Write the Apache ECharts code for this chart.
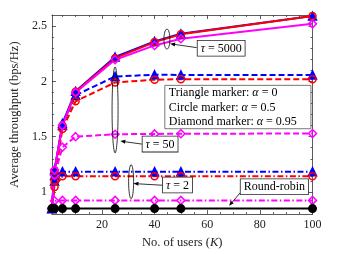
<!DOCTYPE html>
<html><head><meta charset="utf-8">
<script src="https://cdn.jsdelivr.net/npm/echarts@6/dist/echarts.min.js"></script>
<style>html,body{margin:0;padding:0;background:#fff}#c{width:339px;height:254px}</style>
</head><body><div id="c"></div>
<script>
// ---- data ----
const K = [1, 2, 5, 10, 25, 40, 50, 100];
const tau5000_a0   = [0.85, 1.20, 1.62, 1.91, 2.22, 2.36, 2.43, 2.59];
const tau5000_a05  = [0.85, 1.19, 1.60, 1.905, 2.21, 2.355, 2.425, 2.59];
const tau5000_a095 = [0.85, 1.20, 1.60, 1.90, 2.195, 2.325, 2.385, 2.52];
const tau50_a0     = [0.85, 1.15, 1.60, 1.875, 2.044, 2.06, 2.058, 2.058];
const tau50_a05    = [0.85, 1.10, 1.57, 1.82, 1.99, 2.015, 2.02, 2.02];
const tau50_a095   = [0.85, 1.15, 1.405, 1.50, 1.522, 1.525, 1.527, 1.528];
const tau2_a0      = [0.85, 1.10, 1.184, 1.184, 1.184, 1.184, 1.184, 1.184];
const tau2_a05     = [0.85, 1.045, 1.142, 1.142, 1.142, 1.142, 1.142, 1.142];
const tau2_a095    = [0.85, 0.92, 0.924, 0.924, 0.924, 0.924, 0.924, 0.924];
const roundRobin   = [0.85, 0.85, 0.85, 0.85, 0.85, 0.85, 0.85, 0.85];
const xTickLabels = [20, 40, 60, 80, 100];
const xMinorTicks = [5, 10, 15, 25, 30, 35, 45, 50, 55, 65, 70, 75, 85, 90, 95];
const yTickLabels = [1, 1.5, 2, 2.5];
const yMinorTicks = [0.9, 1.1, 1.2, 1.3, 1.4, 1.6, 1.7, 1.8, 1.9, 2.1, 2.2, 2.3, 2.4];
const legendLines = ['Triangle marker: ', 'Circle marker: ', 'Diamond marker: '];
const legendAlphas = ['0', '0.5', '0.95'];
// annotations in data coordinates
const ellipses = [ {x: 44.7, y: 2.382, rx: 3, ry: 10}, {x: 25, y: 1.742, rx: 3, ry: 43}, {x: 31.1, y: 1.093, rx: 2.5, ry: 17} ];
const boxes = [ {x: 65.3, y: 2.30, tau: '5000'}, {x: 42.1, y: 1.433, tau: '50'}, {x: 48.7, y: 1.063, tau: '2'} ];
const rrBox = {x: 85.5, y: 1.047, text: 'Round-robin'};
const arrows = [ [[56.0, 2.305], [45.9, 2.34]], [[35.2, 1.433], [27.0, 1.46]], [[43.0, 1.061], [32.0, 1.076]], [[72.8, 1.0], [68.3, 0.875]] ];
const legendBox = {x0: 43.9, y0: 1.964, x1: 99.4, y1: 1.572};

const FONT = 'Liberation Serif';
const pairs = a => K.map((k, i) => [k, a[i]]);
const DASH = [6, 3], DASHDOT = [6, 2.5, 1.5, 2.5];
function mk(data, color, type, symbol, size, filled) {
  return {
    type: 'line', data: pairs(data), animation: false, z: 3,
    lineStyle: {color, width: 2, type}, symbol, symbolSize: size,
    itemStyle: {color: filled ? color : 'transparent', borderColor: color, borderWidth: 1.5}
  };
}
const axCommon = {min: 1, max: 100, type: 'value', splitLine: {show: false}};
const tickStyle = {lineStyle: {color: '#333', width: 0.8}};
const chart = echarts.init(document.getElementById('c'), null, {renderer: 'canvas'});
chart.setOption({
  animation: false,
  grid: {left: 48, top: 15, width: 264.5, height: 206.7, show: false},
  xAxis: [
    Object.assign({}, axCommon, {position: 'bottom', axisLine: {show: true, lineStyle: {color: '#333', width: 0.8}},
      axisTick: Object.assign({inside: true, length: 4, customValues: xTickLabels}, tickStyle),
      axisLabel: {customValues: xTickLabels, fontFamily: FONT, fontSize: 12, color: '#222', margin: 5},
      name: 'No. of users ({i|K})', nameLocation: 'middle', nameGap: 13,
      nameTextStyle: {fontFamily: FONT, fontSize: 12.5, color: '#222', verticalAlign: 'top',
        rich: {i: {fontFamily: FONT, fontSize: 12.5, fontStyle: 'italic', color: '#222'}}}}),
    Object.assign({}, axCommon, {position: 'bottom', axisLine: {show: false},
      axisTick: Object.assign({inside: true, length: 2, customValues: xMinorTicks}, tickStyle), axisLabel: {show: false}}),
    Object.assign({}, axCommon, {position: 'top', axisLine: {show: true, lineStyle: {color: '#333', width: 0.8}},
      axisTick: Object.assign({inside: true, length: 4, customValues: xTickLabels}, tickStyle), axisLabel: {show: false}}),
    Object.assign({}, axCommon, {position: 'top', axisLine: {show: false},
      axisTick: Object.assign({inside: true, length: 2, customValues: xMinorTicks}, tickStyle), axisLabel: {show: false}})
  ],
  yAxis: [
    {type: 'value', min: 0.8, max: 2.6, position: 'left', splitLine: {show: false},
      axisLine: {show: true, lineStyle: {color: '#333', width: 0.8}},
      axisTick: Object.assign({inside: true, length: 4, customValues: yTickLabels}, tickStyle),
      axisLabel: {customValues: yTickLabels, fontFamily: FONT, fontSize: 12, color: '#222', margin: 5},
      name: 'Average throughput (bps/Hz)', nameLocation: 'middle', nameGap: 30,
      nameTextStyle: {fontFamily: FONT, fontSize: 12.5, color: '#222'}},
    {type: 'value', min: 0.8, max: 2.6, position: 'left', splitLine: {show: false}, axisLine: {show: false},
      axisTick: Object.assign({inside: true, length: 2, customValues: yMinorTicks}, tickStyle), axisLabel: {show: false}},
    {type: 'value', min: 0.8, max: 2.6, position: 'right', splitLine: {show: false},
      axisLine: {show: true, lineStyle: {color: '#333', width: 0.8}},
      axisTick: Object.assign({inside: true, length: 4, customValues: yTickLabels}, tickStyle), axisLabel: {show: false}},
    {type: 'value', min: 0.8, max: 2.6, position: 'right', splitLine: {show: false}, axisLine: {show: false},
      axisTick: Object.assign({inside: true, length: 2, customValues: yMinorTicks}, tickStyle), axisLabel: {show: false}}
  ],
  series: [
    mk(tau2_a0, '#0000ff', DASHDOT, 'triangle', 8, true),
    mk(tau2_a05, '#ff0000', DASHDOT, 'circle', 7, false),
    mk(tau2_a095, '#ff00ff', DASHDOT, 'diamond', 8, false),
    mk(tau50_a0, '#0000ff', DASH, 'triangle', 8, true),
    mk(tau50_a05, '#ff0000', DASH, 'circle', 7, false),
    mk(tau50_a095, '#ff00ff', DASH, 'diamond', 8, false),
    mk(tau5000_a0, '#0000ff', 'solid', 'triangle', 8, true),
    mk(tau5000_a05, '#ff0000', 'solid', 'circle', 7, false),
    mk(tau5000_a095, '#ff00ff', 'solid', 'diamond', 8, false),
    mk(roundRobin, '#000000', 'solid', 'circle', 7.5, true)
  ]
});
const px = p => chart.convertToPixel({xAxisIndex: 0, yAxisIndex: 0}, p);
const g = [];
ellipses.forEach(e => {
  const c = px([e.x, e.y]);
  g.push({type: 'ellipse', z: 10, shape: {cx: c[0], cy: c[1], rx: e.rx, ry: e.ry},
    style: {fill: 'none', stroke: '#000', lineWidth: 0.8}});
});
arrows.forEach(a => {
  const p0 = px(a[0]), p1 = px(a[1]);
  const dx = p1[0] - p0[0], dy = p1[1] - p0[1], L = Math.hypot(dx, dy);
  const ux = dx / L, uy = dy / L, h = 5, w = 2;
  const bx = p1[0] - ux * h, by = p1[1] - uy * h;
  g.push({type: 'line', z: 10, shape: {x1: p0[0], y1: p0[1], x2: bx, y2: by}, style: {stroke: '#000', lineWidth: 0.8}});
  g.push({type: 'polygon', z: 10, shape: {points: [[p1[0], p1[1]], [bx - uy * w, by + ux * w], [bx + uy * w, by - ux * w]]},
    style: {fill: '#000'}});
});
const boxStyle = {font: '12px ' + FONT, fill: '#000', backgroundColor: '#fff', borderColor: '#222', borderWidth: 0.8,
  padding: [2, 3, 1, 3], align: 'center', verticalAlign: 'middle'};
boxes.forEach(b => {
  const c = px([b.x, b.y]);
  g.push({type: 'text', z: 11, style: Object.assign({}, boxStyle, {x: c[0], y: c[1], text: '{i|τ} = ' + b.tau,
    rich: {i: {fontStyle: 'italic', fontFamily: FONT, fontSize: 12}}})});
});
{
  const c = px([rrBox.x, rrBox.y]);
  g.push({type: 'text', z: 11, style: Object.assign({}, boxStyle, {x: c[0], y: c[1], text: rrBox.text})});
}
{
  const a = px([legendBox.x0, legendBox.y0]), b = px([legendBox.x1, legendBox.y1]);
  g.push({type: 'rect', z: 11, shape: {x: a[0], y: a[1], width: b[0] - a[0], height: b[1] - a[1]},
    style: {fill: '#fff', stroke: '#555', lineWidth: 0.8}});
  const lh = (b[1] - a[1]) / 3;
  legendLines.forEach((t, i) => {
    g.push({type: 'text', z: 12, style: {x: a[0] + 4, y: a[1] + lh * (i + 0.5) + 0.5, text: t + '{i|α} = ' + legendAlphas[i],
      font: '12px ' + FONT, fill: '#000', verticalAlign: 'middle', align: 'left',
      rich: {i: {fontStyle: 'italic', fontFamily: FONT, fontSize: 12}}}});
  });
}
chart.setOption({graphic: g});
</script></body></html>
